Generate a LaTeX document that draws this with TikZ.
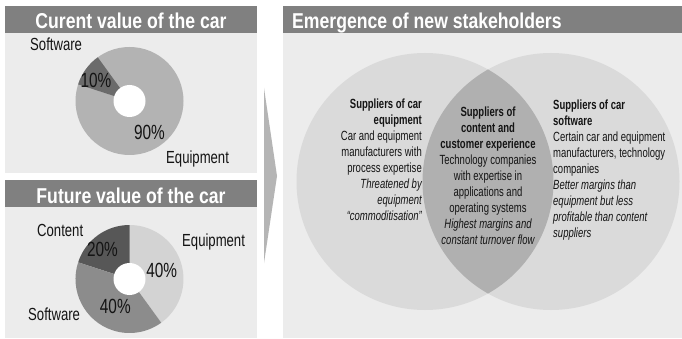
\documentclass[tikz,border=0pt]{standalone}
\usepackage{fontspec}
\setmainfont{Liberation Sans}
% condensed cuts of the sans for titles, labels and body text
\newfontfamily\hdfont[FakeStretch=0.82]{Liberation Sans}
\newfontfamily\lblfont[FakeStretch=0.75]{Liberation Sans}
\newfontfamily\txtfont[FakeStretch=0.715]{Liberation Sans}

\definecolor{hdgray}{HTML}{808080}
\definecolor{panelbg}{HTML}{ECECEC}
\definecolor{arrowgray}{HTML}{B5B5B5}
\definecolor{vennlight}{HTML}{DADADA}
\definecolor{vennmid}{HTML}{B0B0B0}
\definecolor{eqA}{HTML}{B3B3B3}
\definecolor{swA}{HTML}{6B6B6B}
\definecolor{eqB}{HTML}{D3D3D3}
\definecolor{ctB}{HTML}{575757}
\definecolor{swB}{HTML}{8C8C8C}
\definecolor{ink}{HTML}{141414}

\tikzset{
  headtext/.style={text=white, inner sep=0pt, font={\hdfont\bfseries\fontsize{21.5}{24}\selectfont}},
  pielabel/.style={text=ink, inner sep=0pt, font={\lblfont\fontsize{17.5}{20}\selectfont}},
  pctlabel/.style={text=ink, inner sep=0pt, font={\lblfont\fontsize{20.5}{23}\selectfont}},
  venntext/.style={text=ink, inner sep=0pt, font={\txtfont\fontsize{13.3}{16}\selectfont}},
}

\begin{document}
\begin{tikzpicture}[x=1pt, y=-1pt]
\useasboundingbox (0,0) rectangle (682,339);
\fill[white] (0,0) rectangle (682,339);

% ---- panels and title bars ----
\fill[panelbg] (4.5,33) rectangle (257,173);
\fill[hdgray]  (4.5,6) rectangle (257,33);
\fill[panelbg] (4.5,207) rectangle (257,338);
\fill[hdgray]  (4.5,180) rectangle (257,207);
\fill[panelbg] (283,33) rectangle (682,338);
\fill[hdgray]  (283,6) rectangle (682,33);

\node[headtext, anchor=base] (hcur) at (131,28.3) {Curent value of the car};
\node[headtext, anchor=base] (hfut) at (131,203.3) {Future value of the car};
\node[headtext, anchor=base west] (hnew) at (292,28.5) {Emergence of new stakeholders};

% ---- transition arrow ----
\fill[arrowgray] (264,88) -- (277,176) -- (264,263) -- cycle;

% ---- current value donut ----
\begin{scope}[shift={(129.5,101)}, yscale=-1]
  \fill[eqA] (0,0) circle[radius=54];
  \fill[swA] (0,0) -- (126:54) arc[start angle=126, end angle=162, radius=54] -- cycle;
  \fill[white] (0,0) circle[radius=16];
\end{scope}
\node[pielabel, anchor=base west] (lsoftA) at (30,50.3) {Software};
\node[pctlabel, anchor=base] (pswA) at (96,87.3) {10\%};
\node[pctlabel, anchor=base] (peqA) at (149.5,140) {90\%};
\node[pielabel, anchor=base west] (leqA) at (166,163.3) {Equipment};

% ---- future value donut ----
\begin{scope}[shift={(129.5,279)}, yscale=-1]
  \fill[eqB] (0,0) -- (-54:54) arc[start angle=-54, end angle=90, radius=54] -- cycle;
  \fill[ctB] (0,0) -- (90:54) arc[start angle=90, end angle=162, radius=54] -- cycle;
  \fill[swB] (0,0) -- (162:54) arc[start angle=162, end angle=306, radius=54] -- cycle;
  \fill[white] (0,0) circle[radius=16];
\end{scope}
\node[pielabel, anchor=base west] (lctB) at (37,236) {Content};
\node[pctlabel, anchor=base] (pctB) at (102.5,256) {20\%};
\node[pielabel, anchor=base west] (leqB) at (182,246.7) {Equipment};
\node[pctlabel, anchor=base] (peqB) at (161.7,277.3) {40\%};
\node[pctlabel, anchor=base] (pswB) at (115.3,313.3) {40\%};
\node[pielabel, anchor=base west] (lswB) at (28,320) {Software};

% ---- stakeholder Venn diagram ----
\fill[vennlight] (425,181.5) circle[radius=128.5];
\fill[vennlight] (551,181.5) circle[radius=128.5];
\begin{scope}
  \clip (425,181.5) circle[radius=128.5];
  \fill[vennmid] (551,181.5) circle[radius=128.5];
\end{scope}

\node[venntext, anchor=north east, align=right] (equip) at (422,98.6) {%
  \bfseries Suppliers of car\\
  \bfseries equipment\\
  Car and equipment\\
  manufacturers with\\
  process expertise\\
  \itshape Threatened by\\
  \itshape equipment\\
  \itshape “commoditisation”};

\node[venntext, anchor=north, align=center] (content) at (488,106.4) {%
  \bfseries Suppliers of\\
  \bfseries content and\\
  \bfseries customer experience\\
  Technology companies\\
  with expertise in\\
  applications and\\
  operating systems\\
  \itshape Highest margins and\\
  \itshape constant turnover flow};

\node[venntext, anchor=north west, align=left] (soft) at (553,99.4) {%
  \bfseries Suppliers of car\\
  \bfseries software\\
  Certain car and equipment\\
  manufacturers, technology\\
  companies\\
  \itshape Better margins than\\
  \itshape equipment but less\\
  \itshape profitable than content\\
  \itshape suppliers};
\end{tikzpicture}
\end{document}
